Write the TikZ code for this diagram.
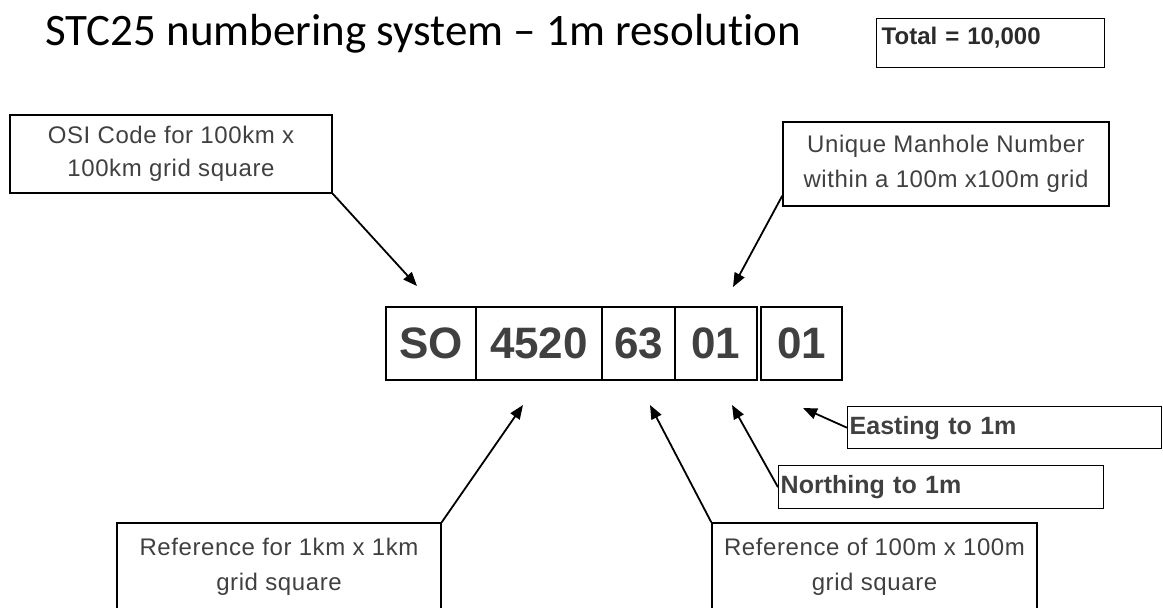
\documentclass[tikz,border=0pt]{standalone}
\usepackage{fontspec}
\setmainfont{Carlito}[Ligatures=NoCommon]
\newfontfamily\labelfont{Liberation Sans}[LetterSpace=2.5]
\newfontfamily\codefont{Liberation Sans}
\usetikzlibrary{arrows.meta,calc}
\definecolor{ink}{HTML}{404040}
\definecolor{darkink}{HTML}{2B2B2B}
\begin{document}
\begin{tikzpicture}[x=1pt,y=-1pt,
  callout/.style={draw=black, line width=1.4pt, inner sep=0pt, align=center,
    text=ink, font={\labelfont\fontsize{24}{35}\selectfont}},
  codebox/.style={draw=black, line width=2.2pt, inner sep=0pt, minimum height=73pt,
    text=ink, font={\codefont\bfseries\fontsize{44}{44}\selectfont}},
  tagbox/.style={draw=black, line width=1.4pt, inner xsep=2pt, inner ysep=0pt,
    anchor=north west, align=left, text=ink,
    font={\codefont\bfseries\fontsize{25}{30}\selectfont}},
  pointer/.style={draw=black, line width=1.8pt, -{Triangle[length=14pt,width=11pt]}}
]
\useasboundingbox (0,0) rectangle (1163,608);

% heading and total
\node[anchor=base west, font={\fontsize{45}{54}\selectfont}] (title) at (42,45)
  {STC25 numbering system – 1m resolution};
\node[draw=black, line width=1.4pt, anchor=north west, inner xsep=5pt, inner ysep=4pt,
  text width=218pt, text height=22pt, text depth=19pt, align=left, text=darkink,
  font={\codefont\bfseries\fontsize{24}{28}\selectfont}] (total) at (876,18)
  {Total = 10,000};

% the reference number, one box per part
\node[codebox, minimum width=90pt]  (so)   at (431,343.5)   {SO};
\node[codebox, minimum width=126pt] (km)   at (539,343.5)   {4520};
\node[codebox, minimum width=73pt]  (hm)   at (638.5,343.5) {63};
\node[codebox, minimum width=82pt]  (mh)   at (716,343.5)   {01};
\node[codebox, minimum width=81pt]  (ext)  at (801.5,343.5) {01};

% explanatory callouts
\node[callout, minimum width=322pt, minimum height=78pt,
  font={\labelfont\fontsize{24}{33}\selectfont}] (osi) at (171,154)
  {\raisebox{-3pt}{OSI Code for 100km x}\\\raisebox{-3pt}{100km grid square}};
\node[callout, minimum width=326pt, minimum height=84pt] (man) at (946,164)
  {Unique Manhole Number\\within a 100m x100m grid};
\node[callout, minimum width=324pt, minimum height=88pt] (ref1) at (279,567)
  {Reference for 1km x 1km\\grid square};
\node[callout, minimum width=325pt, minimum height=88pt] (ref2) at (874.5,567)
  {Reference of 100m x 100m\\grid square};
\node[tagbox, text width=310pt, minimum height=42pt] (east) at (847,406) {Easting to 1m};
\node[tagbox, text width=321pt, minimum height=43pt] (north) at (778,465) {Northing to 1m};

% arrow targets
\coordinate (tipSO) at (417,286);
\coordinate (tipMH) at (733,287);
\coordinate (tipKM) at (523,405);
\coordinate (tipHM) at (650,405);
\coordinate (tipN)  at (732,405);
\coordinate (tipE)  at (803,408);

\draw[pointer] (osi.south east) -- (tipSO);
\draw[pointer] ($(man.south west)+(0,-11)$) -- (tipMH);
\draw[pointer] (ref1.north east) -- (tipKM);
\draw[pointer] (ref2.north west) -- (tipHM);
\draw[pointer] (north.west) -- (tipN);
\draw[pointer] (east.west) -- (tipE);
\end{tikzpicture}
\end{document}
